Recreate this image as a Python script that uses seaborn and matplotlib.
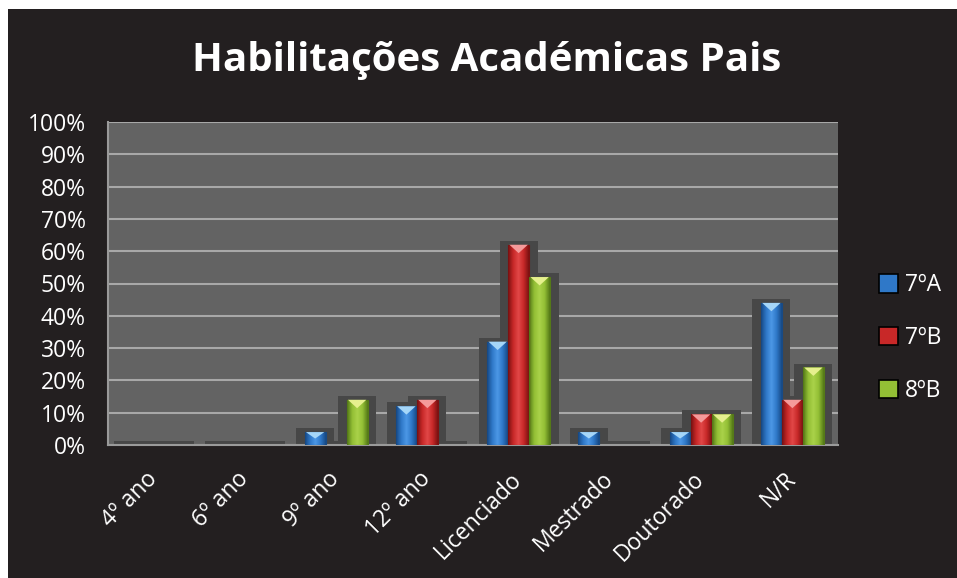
import matplotlib
matplotlib.use("Agg")
import matplotlib.pyplot as plt
from matplotlib.patches import Rectangle, Polygon
from matplotlib.colors import LinearSegmentedColormap
import numpy as np
import pandas as pd
import seaborn as sns

categories = ["4º ano", "6º ano", "9º ano", "12º ano", "Licenciado", "Mestrado", "Doutorado", "N/R"]
series_names = ["7ºA", "7ºB", "8ºB"]
vals_7A = [0, 0, 4, 12, 32, 4, 4, 44]
vals_7B = [0, 0, 0, 14, 62, 0, 9.5, 14]
vals_8B = [0, 0, 14, 0, 52, 0, 9.5, 24]
yticks = list(range(0, 101, 10))
ytick_labels = [f"{t}%" for t in yticks]
title = "Habilitações Académicas Pais"

mid_colors = ["#2f78c8", "#c82828", "#93bf35"]
dark_colors = ["#174a86", "#7c1212", "#557a18"]
light_colors = ["#4c98e6", "#e24848", "#aad24a"]
tri_colors = ["#a5d6f8", "#f59a9a", "#e6f08e"]

df = pd.DataFrame({
    "cat": categories * 3,
    "val": vals_7A + vals_7B + vals_8B,
    "turma": [series_names[0]] * 8 + [series_names[1]] * 8 + [series_names[2]] * 8,
})

plt.rcParams["font.family"] = ["Open Sans", "DejaVu Sans"]

fig = plt.figure(figsize=(9.57, 5.78), dpi=100)
fig.patch.set_facecolor("white")
fig.patches.append(Rectangle((8 / 957, 0), 1, 1 - 9 / 578, transform=fig.transFigure,
                             facecolor="#231f20", edgecolor="none", zorder=-10))

ax = fig.add_axes([108 / 957, 1 - 445 / 578, (838 - 108) / 957, (445 - 122) / 578])
ax.set_facecolor("#636363")

sns.barplot(data=df, x="cat", y="val", hue="turma", palette=mid_colors, width=0.69,
            saturation=1, ax=ax, legend=True, zorder=3, edgecolor="none")

bars = list(ax.patches)
ax.set_ylim(0, 100)
ax.set_xlim(-0.5, len(categories) - 0.5)

for i, p in enumerate(bars):
    s = i // len(categories)
    x0, w, h = p.get_x(), p.get_width(), p.get_height()
    # shadow
    ax.add_patch(Rectangle((x0 - 0.4 * w, 0), 1.8 * w, h + 1.2, facecolor="#474747",
                           edgecolor="none", zorder=2))
    if h <= 0:
        continue
    cmap = LinearSegmentedColormap.from_list(
        "g", [dark_colors[s], mid_colors[s], light_colors[s], mid_colors[s], dark_colors[s]])
    grad = np.linspace(0, 1, 64).reshape(1, -1)
    im = ax.imshow(grad, cmap=cmap, extent=[x0, x0 + w, 0, h], aspect="auto",
                   zorder=3.5, origin="lower")
    im.set_clip_path(p)
    ax.add_patch(Rectangle((x0, 0), w, h, facecolor="none", edgecolor=dark_colors[s],
                           linewidth=0.8, zorder=4))
    d = min(2.6, h * 0.5)
    ax.add_patch(Polygon([[x0 + w * 0.06, h], [x0 + w * 0.94, h], [x0 + w / 2, h - d]],
                         closed=True, facecolor=tri_colors[s], edgecolor="none", zorder=4.5))

ax.set_ylim(0, 100)
ax.set_xlim(-0.5, len(categories) - 0.5)

ax.set_yticks(yticks)
ax.set_yticklabels(ytick_labels)
ax.yaxis.grid(True, color="#a8a8a8", linewidth=1.5, zorder=1)
ax.set_axisbelow(True)
ax.tick_params(axis="both", length=0, colors="white", labelsize=16.5)
ax.tick_params(axis="y", pad=16)
ax.set_xlabel("")
ax.set_ylabel("")
plt.setp(ax.get_xticklabels(), rotation=45, ha="right", va="center", rotation_mode="anchor")
ax.tick_params(axis="x", pad=22)
for sp in ax.spines.values():
    sp.set_color("#9a9a9a")
    sp.set_linewidth(1.5)
ax.spines["right"].set_visible(False)
ax.spines["top"].set_visible(False)

handles, labels = ax.get_legend_handles_labels()
ax.get_legend().remove()
for h_ in handles:
    h_.set_edgecolor("black")
    h_.set_linewidth(1.2)
fig.legend(handles, labels, loc="center left", bbox_to_anchor=(858 / 957, 1 - 338 / 578),
           frameon=False, labelcolor="white", fontsize=16.5, handlelength=0.85,
           handleheight=0.85, handletextpad=0.3, labelspacing=1.25)

fig.text(487 / 957, 1 - 60 / 578, title, ha="center", va="center", color="white",
         fontsize=29, fontweight="bold")

fig.savefig("out.png", dpi=100, facecolor=fig.get_facecolor())
